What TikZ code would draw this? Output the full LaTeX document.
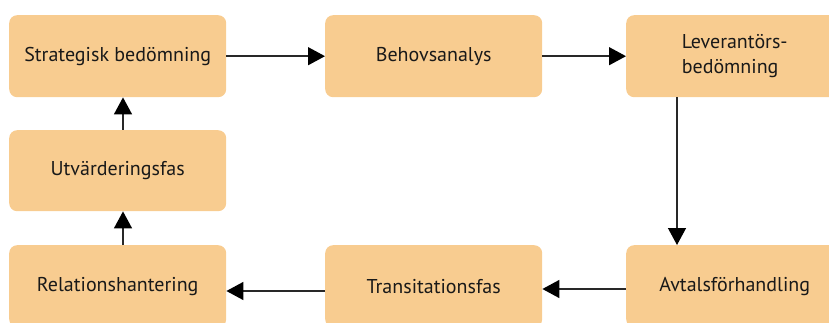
\documentclass[tikz,border=0pt]{standalone}
\usepackage{fontspec}
\setmainfont{PT Sans}
\usetikzlibrary{arrows.meta}
\definecolor{boxfill}{RGB}{248,204,144}
\definecolor{linegray}{RGB}{40,40,40}
\tikzset{
  phase/.style={fill=boxfill, draw=none, rounded corners=8pt,
    minimum width=217pt, minimum height=82pt, inner sep=0pt,
    font=\fontsize{20}{25}\selectfont, text=black!90, anchor=north west},
  flow/.style={draw=linegray, line width=1.4pt,
    -{Triangle[length=17pt,width=18pt,color=black]}}
}
\begin{document}
\begin{tikzpicture}[x=1pt,y=-1pt]
  \useasboundingbox (0,0) rectangle (829,323);
  \clip (0,0) rectangle (829,323);
  % top row
  \node[phase] (strat) at (9,15) {Strategisk bedömning};
  \node[phase] (behov) at (325,15) {Behovsanalys};
  \node[phase, align=left] (lev) at (626,15) {Leverantörs-\\bedömning};
  % middle row
  \node[phase, minimum height=81pt] (utv) at (9,130) {Utvärderingsfas};
  % bottom row
  \node[phase] (rel) at (9,245) {Relationshantering};
  \node[phase] (trans) at (325,245) {Transitationsfas};
  \node[phase] (avt) at (626,245) {Avtalsförhandling};
  % connectors
  \draw[flow] (strat.east) -- (behov.west);
  \draw[flow] (behov.east) -- (lev.west);
  \draw[flow] (lev.south -| 677,0) -- (avt.north -| 677,0);
  \draw[flow] (avt.west |- 0,289) -- (trans.east |- 0,289);
  \draw[flow] (trans.west |- 0,291) -- (rel.east |- 0,291);
  \draw[flow] (rel.north -| 123,0) -- (utv.south -| 123,0);
  \draw[flow] (utv.north -| 123,0) -- (strat.south -| 123,0);
\end{tikzpicture}
\end{document}
